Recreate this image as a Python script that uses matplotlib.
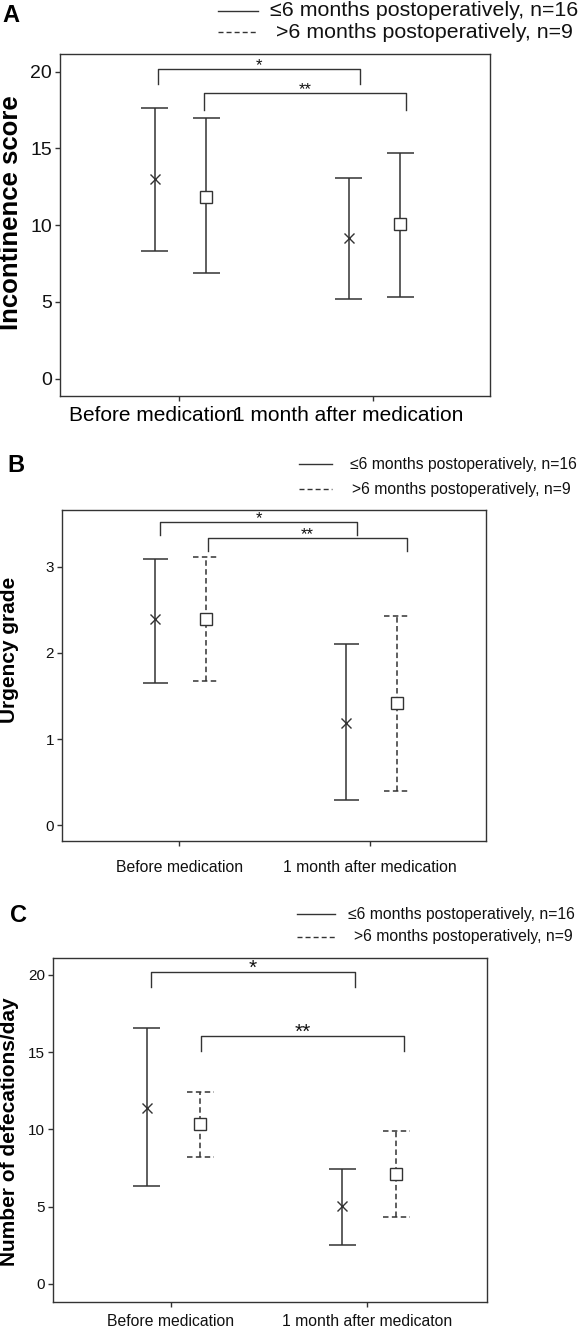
import matplotlib
matplotlib.use('Agg')
import matplotlib.pyplot as plt
from matplotlib.lines import Line2D
import numpy as np

plt.rcParams['font.family'] = ['Liberation Sans', 'DejaVu Sans']

# ---------------- data ----------------
time_points = ["Before medication", "1 month after medication"]
time_points_c = ["Before medication", "1 month after medicaton"]
group_labels = ["\u22646 months postoperatively, n=16", ">6 months postoperatively, n=9"]

# Panel A: incontinence score (mean, lower, upper)
a_le6_mean = [13.0, 9.15]
a_le6_low = [8.34, 5.19]
a_le6_high = [17.6, 13.1]
a_gt6_mean = [11.84, 10.1]
a_gt6_low = [6.9, 5.34]
a_gt6_high = [16.96, 14.72]

# Panel B: urgency grade
b_le6_mean = [2.39, 1.19]
b_le6_low = [1.65, 0.29]
b_le6_high = [3.095, 2.10]
b_gt6_mean = [2.39, 1.42]
b_gt6_low = [1.67, 0.40]
b_gt6_high = [3.11, 2.43]

# Panel C: number of defecations/day
c_le6_mean = [11.37, 5.04]
c_le6_low = [6.34, 2.54]
c_le6_high = [16.54, 7.44]
c_gt6_mean = [10.37, 7.11]
c_gt6_low = [8.19, 4.33]
c_gt6_high = [12.42, 9.90]

# significance brackets: (x start, x end, top, drop, label)
a_brackets = [(-0.108, 0.933, 20.18, 19.18, "*"), (0.129, 1.170, 18.59, 17.5, "**")]
b_brackets = [(-0.101, 0.934, 3.525, 3.37, "*"), (0.152, 1.193, 3.34, 3.18, "**")]
c_brackets = [(-0.102, 0.940, 20.21, 19.2, "*"), (0.155, 1.192, 16.07, 15.1, "**")]

# ---------------- layout helpers ----------------
W, H = 581, 1329
fig = plt.figure(figsize=(W / 100, H / 100), dpi=100)

def rect(l, t, r, b):
    return [l / W, 1 - b / H, (r - l) / W, (b - t) / H]

def fx(x):
    return x / W

def fy(y):
    return 1 - y / H

LC = '#333333'
DASH = (0, (3.6, 2.2))
OFF_LE6 = -0.125
OFF_GT6 = 0.14


def draw_group(ax, xs, mean, low, high, marker, ls, capw, msize):
    xs = np.asarray(xs, dtype=float)
    mean = np.asarray(mean)
    low = np.asarray(low)
    high = np.asarray(high)
    ax.vlines(xs, low, high, colors=LC, linewidth=1.1, linestyles=ls, zorder=2)
    ax.hlines(high, xs - capw, xs + capw, colors=LC, linewidth=1.1, linestyles=ls, zorder=2)
    ax.hlines(low, xs - capw, xs + capw, colors=LC, linewidth=1.1, linestyles=ls, zorder=2)
    if marker == 'x':
        ax.plot(xs, mean, ls='none', marker='x', ms=msize, mec=LC, mew=1.0, zorder=3)
    else:
        ax.plot(xs, mean, ls='none', marker='s', ms=msize, mfc='white', mec=LC, mew=1.0, zorder=3)


def draw_brackets(ax, brackets, fs, dy=2.5):
    for x0, x1, top, drop, lab in brackets:
        ax.plot([x0, x0, x1, x1], [drop, top, top, drop], color=LC, lw=1.0, zorder=2,
                clip_on=False)
        ax.annotate(lab, xy=((x0 + x1) / 2, top), xytext=(0, dy), textcoords='offset points',
                    ha='center', va='center', fontsize=fs, color='#111111')


def style_axes(ax, xlim, ylim, yticks, ytick_fs):
    ax.set_xlim(*xlim)
    ax.set_ylim(*ylim)
    ax.set_yticks(yticks)
    ax.set_yticklabels([str(t) for t in yticks], fontsize=ytick_fs)
    for s in ax.spines.values():
        s.set_color(LC)
        s.set_linewidth(1.0)
    ax.tick_params(axis='both', direction='out', length=3.6, width=1.0, color=LC,
                   labelcolor='#111111', pad=2)


def legend(x_line0, x_line1, x_text0, x_text1, y0, y1, fs):
    fig.add_artist(Line2D([fx(x_line0), fx(x_line1)], [fy(y0), fy(y0)],
                          transform=fig.transFigure, color=LC, lw=1.0))
    fig.add_artist(Line2D([fx(x_line0), fx(x_line1)], [fy(y1), fy(y1)],
                          transform=fig.transFigure, color=LC, lw=1.0, ls=DASH))
    fig.text(fx(x_text0), fy(y0), group_labels[0], fontsize=fs, va='center', ha='left',
             color='#111111')
    fig.text(fx(x_text1), fy(y1), group_labels[1], fontsize=fs, va='center', ha='left',
             color='#111111')

cat = np.arange(len(time_points))

# ---------------- Panel A ----------------
axA = fig.add_axes(rect(60, 54, 490, 396))
style_axes(axA, (-0.613, 1.603), (-1.13, 21.15), [0, 5, 10, 15, 20], 14)
draw_group(axA, cat + OFF_LE6, a_le6_mean, a_le6_low, a_le6_high, 'x', 'solid', 0.07, 7.5)
draw_group(axA, cat + OFF_GT6, a_gt6_mean, a_gt6_low, a_gt6_high, 's', 'solid', 0.07, 8.5)
draw_brackets(axA, a_brackets, 12)
axA.set_xticks(cat)
axA.set_xticklabels([])
axA.set_xticks(cat - 0.13, minor=True)
axA.set_xticklabels(time_points, minor=True, fontsize=15)
axA.tick_params(axis='x', which='minor', length=0, pad=7.5)
fig.text(fx(11.5), fy(213), "Incontinence score", rotation=90, fontsize=18.5,
         fontweight='bold', ha='center', va='center')
fig.text(fx(2), fy(15), "A", fontsize=17, fontweight='bold', ha='left', va='center')
legend(218, 258, 270, 276, 11, 32, 15.4)

# ---------------- Panel B ----------------
axB = fig.add_axes(rect(62, 510, 486, 840.7))
style_axes(axB, (-0.615, 1.608), (-0.18, 3.66), [0, 1, 2, 3], 11)
draw_group(axB, cat + OFF_LE6, b_le6_mean, b_le6_low, b_le6_high, 'x', 'solid', 0.066, 7.5)
draw_group(axB, cat + OFF_GT6, b_gt6_mean, b_gt6_low, b_gt6_high, 's', DASH, 0.066, 8.5)
draw_brackets(axB, b_brackets, 12, dy=2.0)
axB.set_xticks(cat)
axB.set_xticklabels(time_points, fontsize=11.3)
axB.tick_params(axis='x', pad=10)
fig.text(fx(10), fy(650), "Urgency grade", rotation=90, fontsize=15,
         fontweight='bold', ha='center', va='center')
fig.text(fx(7), fy(465), "B", fontsize=17, fontweight='bold', ha='left', va='center')
legend(299, 332, 350, 352, 464, 489, 11.3)

# ---------------- Panel C ----------------
axC = fig.add_axes(rect(52.7, 958.3, 487, 1301.7))
style_axes(axC, (-0.605, 1.615), (-1.15, 21.07), [0, 5, 10, 15, 20], 11)
draw_group(axC, cat + OFF_LE6, c_le6_mean, c_le6_low, c_le6_high, 'x', 'solid', 0.069, 7.5)
draw_group(axC, cat + OFF_GT6 + 0.01, c_gt6_mean, c_gt6_low, c_gt6_high, 's', DASH, 0.069, 8.5)
draw_brackets(axC, c_brackets, 15)
axC.set_xticks(cat)
axC.set_xticklabels(time_points_c, fontsize=11.3)
axC.tick_params(axis='x', pad=5)
fig.text(fx(10), fy(1132), "Number of defecations/day", rotation=90, fontsize=15,
         fontweight='bold', ha='center', va='center')
fig.text(fx(10), fy(916), "C", fontsize=17, fontweight='bold', ha='left', va='center')
legend(297, 335, 348.3, 353.7, 914, 937, 11.3)

fig.savefig('out.png', dpi=100)
